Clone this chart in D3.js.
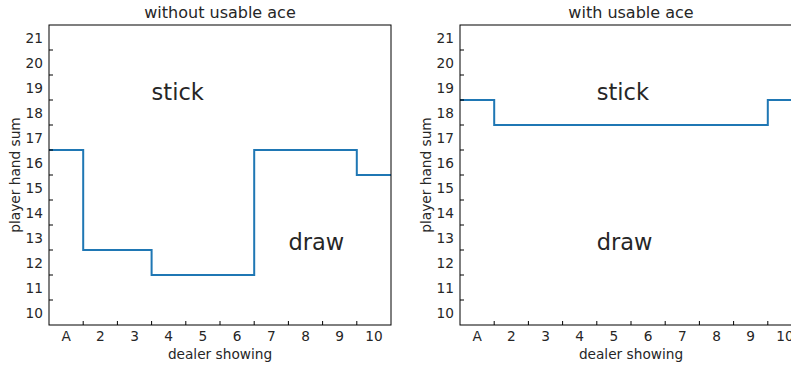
<!DOCTYPE html>
<html>
<head>
  <script src="https://d3js.org/d3.v7.min.js"></script>
  <style>
    body { margin: 0; background: #fff; }
    text { font-family: "DejaVu Sans", sans-serif; fill: #262626; }
  </style>
</head>
<body>
  <svg id="chart"></svg>
  <script>
    // dealer card categories and tick labels
    var dealerCards = [1, 2, 3, 4, 5, 6, 7, 8, 9, 10];
    var dealerLabels = ["A", "2", "3", "4", "5", "6", "7", "8", "9", "10"];
    var playerSums = [10, 11, 12, 13, 14, 15, 16, 17, 18, 19, 20, 21];

    // decision boundary (stick at or above) per dealer card
    var noAceBoundary = [16.5, 12.5, 12.5, 11.5, 11.5, 11.5, 16.5, 16.5, 16.5, 15.5];
    var aceBoundary = [18.5, 17.5, 17.5, 17.5, 17.5, 17.5, 17.5, 17.5, 17.5, 18.5];

    var panels = [
      { title: "without usable ace", values: noAceBoundary, left: 49,
        stick: [3.5, 18.5], draw: [7.5, 12.5] },
      { title: "with usable ace", values: aceBoundary, left: 460,
        stick: [4.5, 18.5], draw: [4.5, 12.5] }
    ];

    var width = 791, height = 365;
    var plotW = 342, plotTop = 25, plotH = 300;
    var fs = 13.7;

    var svg = d3.select("#chart").attr("width", width).attr("height", height);

    panels.forEach(function(p) {
      var g = svg.append("g").attr("transform", "translate(" + p.left + "," + plotTop + ")");

      var x = d3.scaleLinear().domain([0.5, 10.5]).range([0, plotW]);
      var y = d3.scaleLinear().domain([9.5, 21.5]).range([plotH, 0]);

      // step line
      var pts = [];
      p.values.forEach(function(v, i) {
        pts.push([dealerCards[i] - 0.5, v]);
        pts.push([dealerCards[i] + 0.5, v]);
      });
      g.append("path")
        .datum(pts)
        .attr("fill", "none")
        .attr("stroke", "#1f77b4")
        .attr("stroke-width", 2)
        .attr("d", d3.line().x(function(d) { return x(d[0]); }).y(function(d) { return y(d[1]); }));

      // inward ticks at bin edges
      var xEdges = dealerCards.slice(0, -1).map(function(d) { return d + 0.5; });
      var yEdges = playerSums.slice(0, -1).map(function(d) { return d + 0.5; });
      g.selectAll(".xt").data(xEdges).enter().append("line")
        .attr("x1", x).attr("x2", x)
        .attr("y1", plotH).attr("y2", plotH - 4)
        .attr("stroke", "#000").attr("stroke-width", 1);
      g.selectAll(".yt").data(yEdges).enter().append("line")
        .attr("y1", y).attr("y2", y)
        .attr("x1", 0).attr("x2", 4)
        .attr("stroke", "#000").attr("stroke-width", 1);

      // frame
      g.append("rect")
        .attr("x", 0).attr("y", 0).attr("width", plotW).attr("height", plotH)
        .attr("fill", "none").attr("stroke", "#000").attr("stroke-width", 1);

      // tick labels
      g.selectAll(".xl").data(dealerCards).enter().append("text")
        .attr("x", x).attr("y", plotH + 16)
        .attr("text-anchor", "middle").attr("font-size", fs)
        .text(function(d, i) { return dealerLabels[i]; });
      g.selectAll(".yl").data(playerSums).enter().append("text")
        .attr("x", -6).attr("y", function(d) { return y(d) + 5; })
        .attr("text-anchor", "end").attr("font-size", fs)
        .text(function(d) { return d; });

      // titles
      g.append("text").attr("x", plotW / 2).attr("y", -7)
        .attr("text-anchor", "middle").attr("font-size", 16).text(p.title);
      g.append("text").attr("x", plotW / 2).attr("y", plotH + 34)
        .attr("text-anchor", "middle").attr("font-size", fs).text("dealer showing");
      g.append("text")
        .attr("transform", "translate(-29," + (plotH / 2) + ") rotate(-90)")
        .attr("text-anchor", "middle").attr("font-size", fs).text("player hand sum");

      // region annotations
      g.append("text").attr("x", x(p.stick[0])).attr("y", y(p.stick[1]))
        .attr("font-size", 22.5).text("stick");
      g.append("text").attr("x", x(p.draw[0])).attr("y", y(p.draw[1]))
        .attr("font-size", 22.5).text("draw");
    });
  </script>
</body>
</html>
